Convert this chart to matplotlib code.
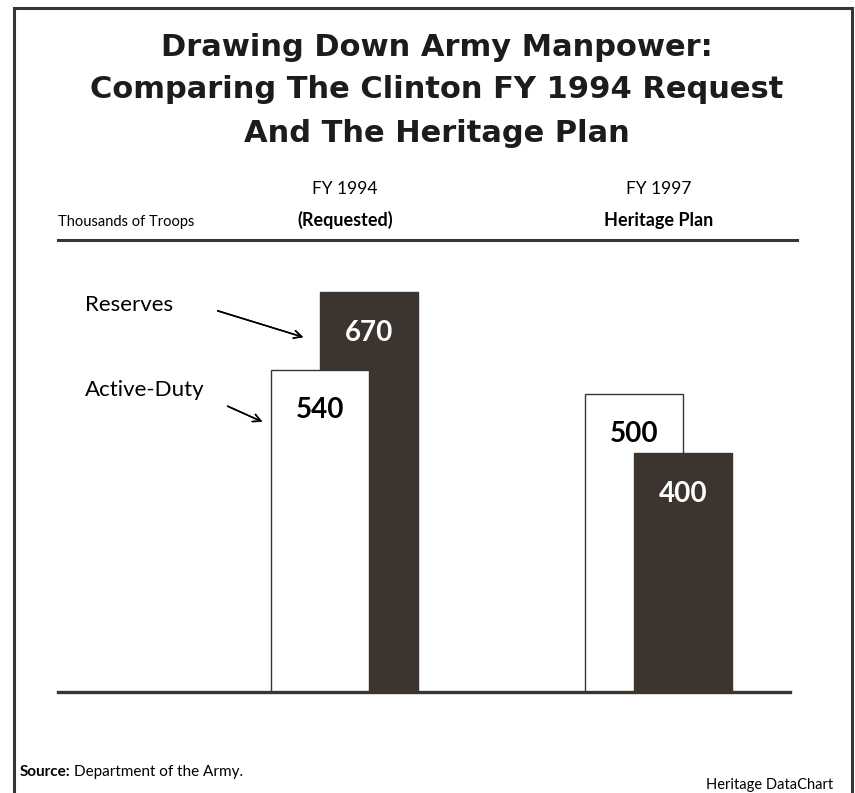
import numpy as np
import matplotlib.pyplot as plt
from matplotlib.lines import Line2D

years = ["FY 1994", "FY 1997"]
subtitles = ["(Requested)", "Heritage Plan"]
active_duty = [540, 500]
reserves = [670, 400]

W, H = 855, 793
dark = "#3b342f"

def fx(px):
    return px / W

def fy(py):
    return 1 - py / H

fig = plt.figure(figsize=(W / 100, H / 100), dpi=100)
fig.patch.set_facecolor("white")

# frame round the chart
for xs, ys in [([14, 14], [8, 793]), ([14, 852], [8, 8]), ([852, 852], [8, 793])]:
    fig.add_artist(Line2D([fx(x) for x in xs], [fy(y) for y in ys], color=dark, lw=2.2))

# header rule
fig.add_artist(Line2D([fx(58), fx(797)], [fy(240), fy(240)], color=dark, lw=2.2))

ax = fig.add_axes([fx(58), fy(692), fx(790) - fx(58), fy(240) - fy(692)])
ax.set_xlim(-0.914, 1.418)
ax.set_ylim(0, 758)
ax.axis("off")
ax.axhline(0, color=dark, lw=2.4, zorder=5, clip_on=False)

x = np.arange(len(years))
w = 0.312
off = 0.078
for i in range(len(years)):
    a, r = active_duty[i], reserves[i]
    za = 3 if a < r else 2
    zr = 3 if r < a else 2
    ax.bar(x[i] - off, a, w, color="white", edgecolor=dark, lw=1.0, zorder=za)
    ax.bar(x[i] + off, r, w, color=dark, edgecolor=dark, lw=1.0, zorder=zr)
    ax.annotate(str(a), (x[i] - off, a), xytext=(0, -29), textcoords="offset points",
                ha="center", va="center", fontsize=20, fontweight="bold",
                family="Lato", color="black", zorder=6)
    ax.annotate(str(r), (x[i] + off, r), xytext=(0, -29), textcoords="offset points",
                ha="center", va="center", fontsize=20, fontweight="bold",
                family="Lato", color="white", zorder=6)
    ax.text(x[i], 758 + 85, years[i], ha="center", va="center", fontsize=12.5,
            family="Lato", clip_on=False)
    ax.text(x[i], 758 + 33, subtitles[i], ha="center", va="center", fontsize=13,
            fontweight="bold", family="Lato", clip_on=False)

title = ["Drawing Down Army Manpower:",
         "Comparing The Clinton FY 1994 Request",
         "And The Heritage Plan"]
for k, line in enumerate(title):
    fig.text(fx(437), fy(47 + 43 * k), line, ha="center", va="center",
             fontsize=22, fontweight="bold", family="DejaVu Sans", color="#1c1c1c")

fig.text(fx(58), fy(222), "Thousands of Troops", ha="left", va="center",
         fontsize=10.5, family="Lato")

fig.text(fx(85), fy(305), "Reserves", ha="left", va="center", fontsize=16, family="Lato")
fig.text(fx(85), fy(390), "Active-Duty", ha="left", va="center", fontsize=16, family="Lato")
ax_arrow = dict(arrowstyle="->", color="black", lw=1.1, mutation_scale=14)
fig.add_artist(plt.annotate("", xy=(fx(306), fy(338)), xytext=(fx(215), fy(310)),
                            xycoords="figure fraction", arrowprops=ax_arrow))
fig.add_artist(plt.annotate("", xy=(fx(265), fy(423)), xytext=(fx(225), fy(405)),
                            xycoords="figure fraction", arrowprops=ax_arrow))

fig.text(fx(20), fy(772), "Source:", ha="left", va="center", fontsize=11,
         fontweight="bold", family="Lato")
fig.text(fx(74), fy(772), "Department of the Army.", ha="left", va="center",
         fontsize=11, family="Lato")
fig.text(fx(833), fy(785), "Heritage DataChart", ha="right", va="center",
         fontsize=10.5, family="Lato")

fig.savefig("out.png", dpi=100)
